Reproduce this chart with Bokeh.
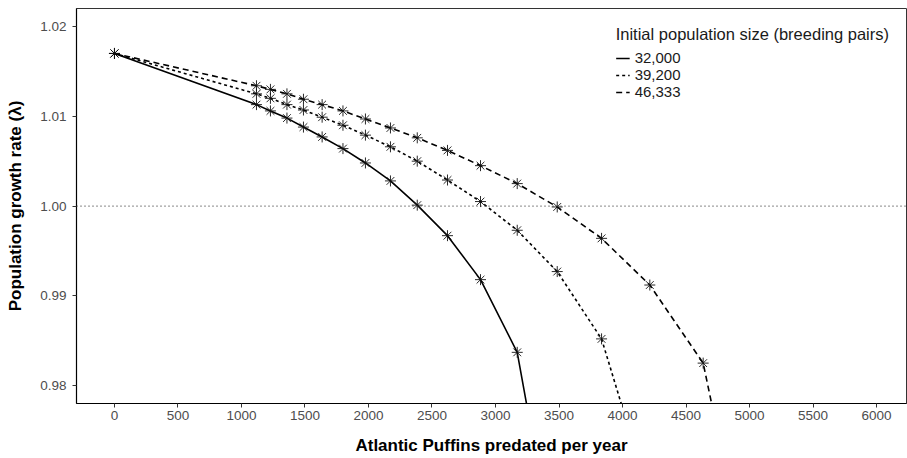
from bokeh.plotting import figure
from bokeh.models import Range1d, FixedTicker, PrintfTickFormatter, Span, Legend, LegendItem
from bokeh.embed import file_html
from bokeh.resources import INLINE

# Atlantic Puffins predated per year (shared grid)
predated = [0, 1118, 1228, 1358, 1488, 1635, 1799, 1976, 2173, 2384, 2622,
            2882, 3171, 3486, 3835, 4215, 4635, 5100]
# Population growth rate (lambda) per initial population size
lambda_32000 = [1.0170, 1.0113, 1.0106, 1.0098, 1.0088, 1.0077, 1.0064, 1.0048,
                1.0028, 1.0001, 0.9967, 0.9918, 0.9837, 0.9591]
lambda_39200 = [1.0170, 1.0125, 1.0120, 1.0113, 1.0107, 1.0099, 1.0090, 1.0079,
                1.0066, 1.0050, 1.0029, 1.0005, 0.9973, 0.9927, 0.9852, 0.9675]
lambda_46333 = [1.0170, 1.0134, 1.0130, 1.0125, 1.0119, 1.0113, 1.0106, 1.0097,
                1.0087, 1.0076, 1.0062, 1.0045, 1.0025, 0.9999, 0.9964, 0.9912,
                0.9825, 0.9511]
series_labels = ["32,000", "39,200", "46,333"]
x_ticks = [0, 500, 1000, 1500, 2000, 2500, 3000, 3500, 4000, 4500, 5000, 5500, 6000]
y_ticks = [0.98, 0.99, 1.00, 1.01, 1.02]

FONT = "Liberation Sans"

p = figure(width=907, height=458, output_backend="svg", toolbar_location=None,
           x_range=Range1d(-299, 6236), y_range=Range1d(0.97800, 1.02201),
           min_border_left=76, min_border_right=1, min_border_top=8,
           min_border_bottom=55)
p.background_fill_color = "white"
p.border_fill_color = "white"
p.outline_line_color = "#333333"
p.outline_line_width = 1
p.xgrid.visible = False
p.ygrid.visible = False

ref = Span(location=1.0, dimension="width", line_color="#444444",
           line_width=1.2, line_dash="1 3")
p.add_layout(ref)

styles = [("solid", lambda_32000), ("3 3", lambda_39200), ("6 4", lambda_46333)]
items = []
for (dash, ys), lab in zip(styles, series_labels):
    xs = predated[:len(ys)]
    r = p.line(xs, ys, line_color="black", line_width=1.6, line_dash=dash)
    p.scatter(xs, ys, marker="asterisk", size=11, line_color="#111111",
              line_width=0.9)
    items.append(LegendItem(label=lab, renderers=[r]))

legend = Legend(items=items, location="top_right", margin=5, padding=12,
                title="Initial population size (breeding pairs)",
                title_text_font=FONT, title_text_font_size="16.5px",
                title_text_font_style="normal",
                title_text_color="#1a1a1a", title_standoff=5,
                label_text_font=FONT, label_text_font_size="15px",
                label_text_color="#1a1a1a", label_height=16, glyph_height=16,
                glyph_width=14, label_standoff=5, spacing=0,
                background_fill_alpha=0, border_line_alpha=0)
p.add_layout(legend)

for ax in (p.xaxis[0], p.yaxis[0]):
    ax.axis_line_color = "black"
    ax.axis_line_width = 1.2
    ax.major_tick_line_color = "#333333"
    ax.major_tick_out = 4
    ax.major_tick_in = 0
    ax.minor_tick_line_color = None
    ax.major_label_text_font = FONT
    ax.major_label_text_font_size = "13.5px"
    ax.major_label_text_color = "#4D4D4D"
    ax.axis_label_text_font = FONT
    ax.axis_label_text_font_size = "17px"
    ax.axis_label_text_font_style = "bold"
    ax.axis_label_text_color = "black"

p.xaxis.ticker = FixedTicker(ticks=x_ticks)
p.yaxis.ticker = FixedTicker(ticks=y_ticks)
p.yaxis.formatter = PrintfTickFormatter(format="%.2f")
p.xaxis.axis_label = "Atlantic Puffins predated per year"
p.yaxis.axis_label = "Population growth rate (\u03bb)"
p.xaxis.major_label_standoff = 3
p.xaxis.axis_label_standoff = 13
p.yaxis.major_label_standoff = 6
p.yaxis.axis_label_standoff = 12

open("out.html", "w").write(file_html(p, INLINE))
